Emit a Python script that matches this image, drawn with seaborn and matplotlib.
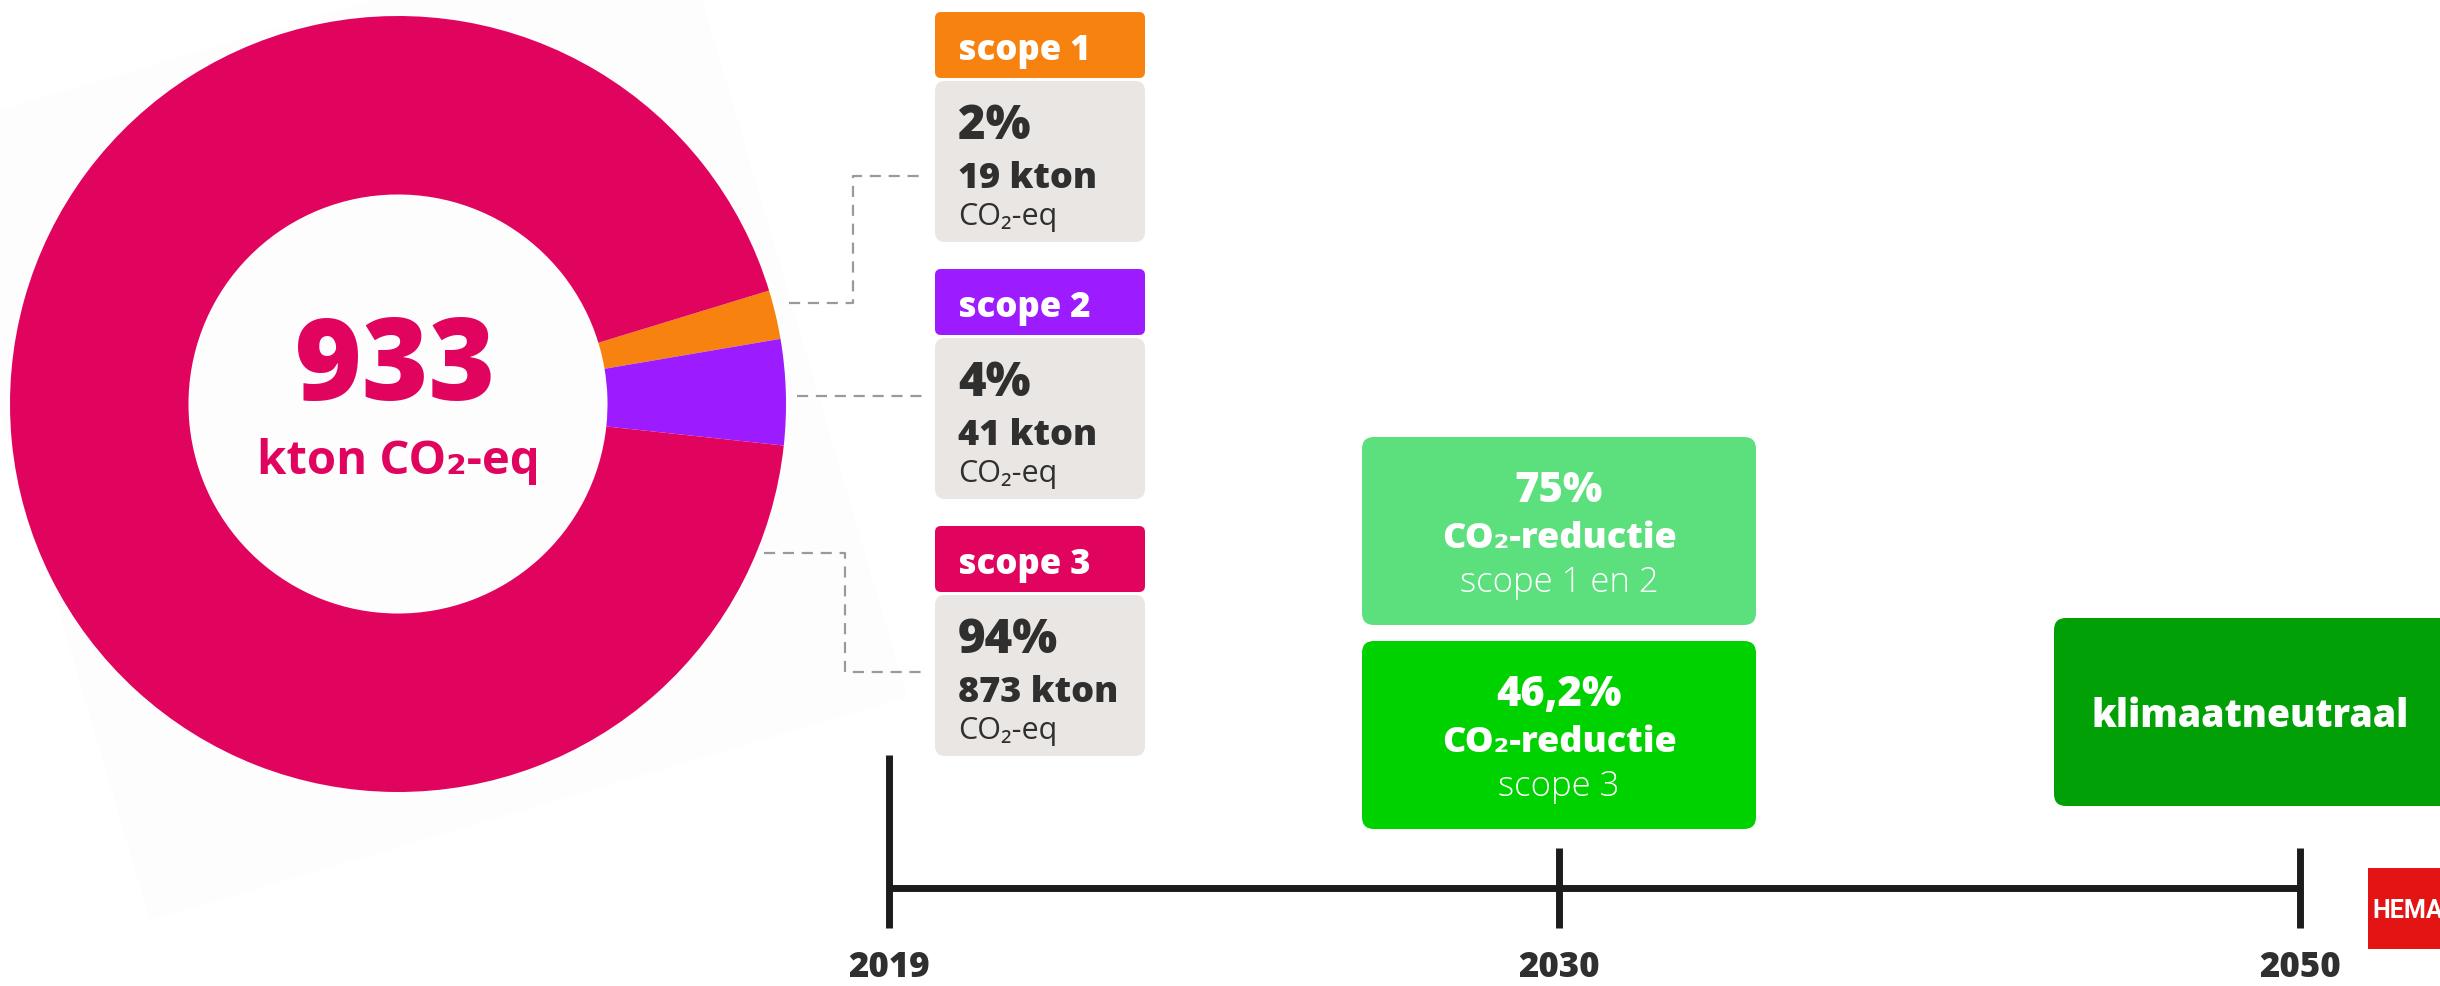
import matplotlib
matplotlib.use("Agg")
import matplotlib.pyplot as plt
from matplotlib.patches import FancyBboxPatch, Polygon, Rectangle
import seaborn as sns

# Data
scope_names = ["scope 1", "scope 2", "scope 3"]
scope_kton = [19, 41, 873]
scope_pct = ["2%", "4%", "94%"]
total_kton = 933
target_years = ["2019", "2030", "2050"]
target_pct = ["75%", "46,2%"]
target_scope = ["scope 1 en 2", "scope 3"]
final_goal = "klimaatneutraal"

# Styles
scope_colors = ["#F8820F", "#9D1BFF", "#E1045F"]
target_colors = ["#5CE07E", "#00D200"]
final_color = "#00A006"
card_grey = "#E9E6E3"
text_dark = "#2F2F2F"
line_dark = "#1C1C1C"

sns.set_theme(style="white")
plt.rcParams['font.family'] = ['Open Sans', 'DejaVu Sans']

W, H = 2440, 986
fig = plt.figure(figsize=(W / 100, H / 100), dpi=100)
fig.patch.set_facecolor("white")

### Main layout axes in pixel units (y going down)
ax = fig.add_axes([0, 0, 1, 1])
ax.set_xlim(0, W)
ax.set_ylim(H, 0)
ax.axis("off")

# faint tilted backdrop behind the donut
ax.add_patch(Polygon([(-81, 134), (676, -89), (907, 697), (150, 920)],
                     closed=True, fc="#FDFDFD", ec="none", zorder=0))


def rbox(x0, y0, x1, y1, color, r):
    ax.add_patch(FancyBboxPatch((x0, y0), x1 - x0, y1 - y0,
                                boxstyle=f"round,pad=0,rounding_size={r}",
                                fc=color, ec="none", zorder=2))


### Donut on its own axes
cx, cy, R = 398, 404, 388
ax_pie = fig.add_axes([(cx - R) / W, (H - cy - R) / H, 2 * R / W, 2 * R / H])
ax_pie.pie(scope_kton, colors=scope_colors, startangle=17, counterclock=False,
           radius=1, wedgeprops=dict(width=0.46, linewidth=0))
ax_pie.set_xlim(-1, 1)
ax_pie.set_ylim(-1, 1)
ax_pie.axis("off")

ax.text(395, 400, str(total_kton), ha="center", va="baseline", fontsize=82,
        fontweight="heavy", color=scope_colors[2], zorder=5)
ax.text(398, 474, "kton CO₂-eq", ha="center", va="baseline", fontsize=34,
        fontweight="bold", color=scope_colors[2], zorder=5)

### Scope cards
for i, name in enumerate(scope_names):
    top = 12 + 257 * i
    rbox(935, top, 1145, top + 66, scope_colors[i], 6)
    rbox(935, top + 69, 1145, top + 230, card_grey, 10)
    ax.text(958, top + 48, name, color="white", fontsize=25, fontweight="heavy",
            va="baseline", zorder=5)
    ax.text(958, top + 127, scope_pct[i], color=text_dark, fontsize=34,
            fontweight="heavy", va="baseline", zorder=5)
    ax.text(958, top + 176, f"{scope_kton[i]} kton", color=text_dark, fontsize=26,
            fontweight="heavy", va="baseline", zorder=5)
    ax.text(958, top + 213, "CO₂-eq", color=text_dark, fontsize=22,
            fontweight="normal", va="baseline", zorder=5)

# leader lines from the donut to the cards
leaders = [
    ([789, 853, 853, 925], [303, 303, 176, 176]),
    ([797, 925], [396, 396]),
    ([764, 845, 845, 925], [553, 553, 672, 672]),
]
for xs, ys in leaders:
    ax.plot(xs, ys, color="#9A9A9A", lw=1.6, ls=(0, (5, 3.5)), zorder=3)

### Targets
boxes = [(437, 625), (641, 829)]
for j, (y0, y1) in enumerate(boxes):
    rbox(1362, y0, 1756, y1, target_colors[j], 12)
    mid = 1559
    ax.text(mid, y0 + 65, target_pct[j], ha="center", va="baseline", color="white",
            fontsize=30, fontweight="heavy", zorder=5)
    ax.text(mid, y0 + 111, "CO₂-reductie", ha="center", va="baseline", color="white",
            fontsize=26, fontweight="heavy", zorder=5)
    ax.text(mid, y0 + 155, target_scope[j], ha="center", va="baseline", color="white",
            fontsize=25, fontweight="light", zorder=5)

rbox(2054, 618, 2470, 806, final_color, 12)
ax.text(2250, 727, final_goal, ha="center", va="baseline", color="white",
        fontsize=27, fontweight="heavy", zorder=5)

### Timeline
milestone_x = [889, 1559, 2300]
tick_top = [755, 848, 848]
line_y = 888
sns.lineplot(x=[milestone_x[0], milestone_x[-1]], y=[line_y, line_y], ax=ax,
             color=line_dark, lw=5, solid_capstyle="butt", zorder=4)
ax.vlines(milestone_x, tick_top, 928, color=line_dark, lw=5, zorder=4)
for x, yr in zip(milestone_x, target_years):
    ax.text(x, 977, yr, ha="center", va="baseline", color=text_dark, fontsize=25,
            fontweight="heavy", zorder=5)

# logo
ax.add_patch(Rectangle((2368, 868), 90, 81, fc="#E31414", ec="none", zorder=4))
ax.text(2372, 918, "HEMA", color="white", fontsize=18, fontweight="bold",
        family=["Roboto", "DejaVu Sans"], va="baseline", zorder=5)

fig.savefig("out.png", dpi=100)
